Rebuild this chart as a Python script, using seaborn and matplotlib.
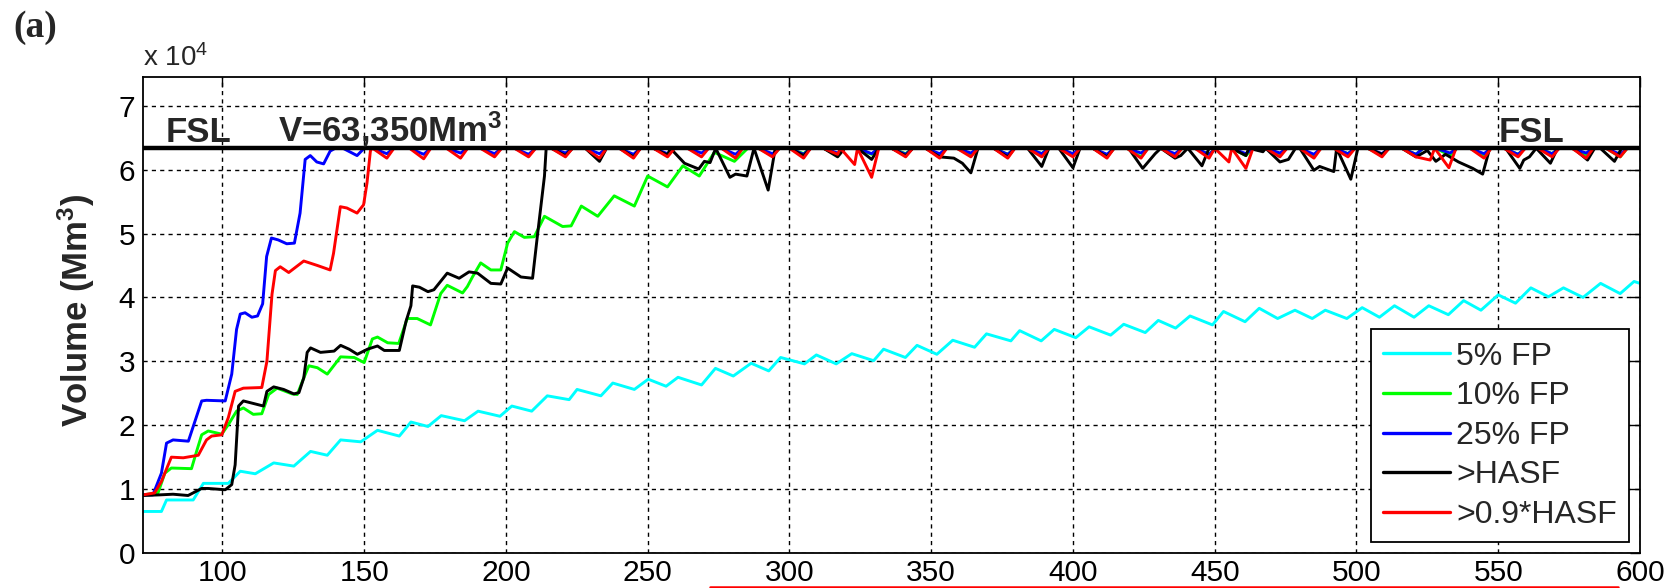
import numpy as np
import pandas as pd
import matplotlib
matplotlib.use("Agg")
import matplotlib.pyplot as plt
from matplotlib.lines import Line2D
from matplotlib.ticker import FixedLocator, FuncFormatter
import seaborn as sns

# ---------------------------------------------------------------------------
# Reservoir storage (values in units of 10^4 Mm^3)
# ---------------------------------------------------------------------------
SCALE = 1e4
FSL = 63350  # full supply level volume, Mm^3

labels = ["5% FP", "10% FP", "25% FP", ">HASF", ">0.9*HASF"]
colors = ["#00FFFF", "#00FF00", "#0000FF", "#000000", "#FF0000"]

cyan_x = [72, 78.5, 80.3, 89.7, 93.3, 102.1, 106.3, 111.6, 118.1, 125.2, 131.1, 137,
          141.7, 148.8, 154.7, 162.4, 166.5, 172.5, 177.2, 185.4, 190.2, 197.9, 202.1,
          209.1, 214.6, 222.3, 225.1, 233.5, 237.7, 245.3, 250.2, 256.5, 260.7, 269,
          273.9, 280.2, 286.5, 292.7, 296.9, 305.3, 309.5, 316.5, 322, 329.7, 333.2,
          340.9, 345, 352, 357.6, 365.3, 369.5, 378.1, 381.2, 388.8, 393.4, 401, 405.7,
          413.3, 417.9, 425.5, 430.1, 436.2, 441.3, 449.2, 453.1, 460.7, 465.7, 472.2,
          478.3, 484.4, 489, 496.6, 502, 508.1, 513.4, 520.3, 525.5, 532.4, 537.8,
          543.9, 550, 556.1, 561.5, 567.7, 573, 579.9, 586.1, 593, 597.9, 600]
cyan_y = [0.65, 0.65, 0.83, 0.83, 1.09, 1.09, 1.28, 1.24, 1.41, 1.36, 1.59, 1.53,
          1.77, 1.74, 1.92, 1.83, 2.05, 1.98, 2.15, 2.07, 2.22, 2.14, 2.30,
          2.22, 2.46, 2.40, 2.56, 2.46, 2.66, 2.56, 2.72, 2.61, 2.75, 2.63,
          2.89, 2.77, 2.97, 2.85, 3.06, 2.96, 3.10, 2.96, 3.12, 3.01, 3.19,
          3.06, 3.25, 3.11, 3.33, 3.22, 3.43, 3.32, 3.48, 3.32, 3.50, 3.37, 3.54,
          3.41, 3.58, 3.45, 3.64, 3.52, 3.71, 3.57, 3.78, 3.62, 3.83, 3.67,
          3.80, 3.67, 3.80, 3.67, 3.84, 3.69, 3.87, 3.69, 3.87, 3.73, 3.95,
          3.80, 4.04, 3.91, 4.15, 4.01, 4.15, 4.00, 4.22, 4.06, 4.25, 4.22]

green_x = [72, 77.3, 79.7, 82, 89.1, 90.9, 92.7, 95, 99.8, 102.1, 105, 107.4, 110.9,
           113.9, 116.3, 119.3, 124.6, 126.4, 128.7, 130.5, 133.5, 137, 141.7, 146.5,
           150, 152.9, 154.7, 158.3, 162.2, 165.2, 168.7, 173.4, 177, 179.3, 184.7,
           186.4, 188.2, 191.1, 194.7, 198.2, 200.6, 203, 206.5, 210, 213.6, 220, 223,
           226.6, 232.4, 238.2, 245.3, 250, 257, 262.4, 268.2, 273.5, 280.6, 285.3]
green_y = [0.91, 0.94, 1.25, 1.33, 1.32, 1.59, 1.85, 1.91, 1.86, 2.01, 2.22, 2.27, 2.17,
           2.18, 2.48, 2.58, 2.49, 2.48, 2.74, 2.93, 2.90, 2.80, 3.07, 3.06,
           2.98, 3.35, 3.38, 3.29, 3.28, 3.67, 3.67, 3.57, 4.06, 4.19, 4.07,
           4.17, 4.32, 4.54, 4.43, 4.43, 4.85, 5.03, 4.94, 4.95, 5.27, 5.11, 5.12,
           5.43, 5.27, 5.59, 5.43, 5.90, 5.73, 6.06, 5.90, 6.27, 6.13, 6.335]
green_dip_x = [294, 305, 317, 329, 341, 353, 364, 377, 389, 400, 412, 424, 436, 448,
               461, 473, 485, 497, 509, 521, 533, 545, 557, 569, 581, 593]
green_dip_y = [6.22, 6.25, 6.23, 6.24, 6.25, 6.22, 6.23, 6.24, 6.25, 6.24, 6.22, 6.20,
               6.22, 6.24, 6.22, 6.24, 6.22, 6.25, 6.22, 6.24, 6.22, 6.22, 6.24, 6.25,
               6.22, 6.20]

blue_x = [72, 75.5, 78.5, 80.3, 82.6, 88, 92.7, 94.4, 101, 103.3, 105, 106.3, 108,
          110.4, 112.4, 114.2, 115.6, 117.3, 119.7, 122.7, 125.4, 127.4, 129.2, 131,
          133.3, 135.7, 138, 139.8]
blue_y = [0.91, 0.91, 1.25, 1.72, 1.77, 1.75, 2.38, 2.39, 2.38, 2.80, 3.5, 3.74, 3.76,
          3.69, 3.71, 3.9, 4.64, 4.93, 4.90, 4.84, 4.85, 5.32, 6.16, 6.22,
          6.12, 6.09, 6.29, 6.335]
blue_dip_x = [147.5, 158, 171, 184, 196, 208, 221, 233, 245, 257, 269, 281, 294, 305,
              317, 329, 341, 353, 364, 377, 389, 400, 412, 424, 436, 448, 461, 473,
              485, 497, 509, 521, 533, 545, 557, 569, 581, 593]
blue_dip_y = [6.22, 6.25, 6.24, 6.26, 6.25, 6.24, 6.26, 6.25, 6.24, 6.25,
              6.26, 6.24, 6.25, 6.24, 6.26, 6.25, 6.24, 6.25, 6.26, 6.24,
              6.25, 6.25, 6.24, 6.26, 6.25, 6.24, 6.25, 6.26, 6.24, 6.25,
              6.25, 6.24, 6.26, 6.25, 6.24, 6.25, 6.26, 6.24]

black_x = [72, 77.9, 82.6, 87.9, 92.7, 95, 101, 103.3, 104.5, 105.7, 107.4, 110.9,
           114.5, 115.7, 118.1, 121.6, 125.2, 127, 128.7, 129.9, 131.1, 134.6, 139.4,
           141.7, 144.7, 147.6, 151.2, 154.7, 157.1, 162.4, 164.8, 166.5, 167.1, 169.5,
           172.5, 174.6, 179.3, 183.5, 187, 190, 194.7, 198.2, 200.6, 205.3, 209.4,
           211.2, 213.6, 214.2]
black_y = [0.90, 0.91, 0.92, 0.90, 1.01, 1.01, 0.99, 1.07, 1.38, 2.30, 2.38, 2.34,
           2.30, 2.53, 2.60, 2.56, 2.49, 2.51, 2.74, 3.14, 3.21, 3.14, 3.16,
           3.25, 3.19, 3.11, 3.19, 3.24, 3.17, 3.17, 3.63, 3.87, 4.18, 4.16,
           4.09, 4.12, 4.38, 4.30, 4.40, 4.38, 4.22, 4.21, 4.46, 4.32, 4.30,
           5.00, 5.90, 6.335]
black_dip_x = [221, 233, 245, 257, 263, 268, 270, 272, 279, 281, 285, 292.5, 305, 317,
               329, 341, 353, 358, 361, 364, 377, 389, 400, 412, 424.6, 429, 436, 438,
               445.5, 461, 467, 473, 476, 485, 487, 492, 498, 509, 521, 525, 528, 531.4,
               536, 541, 544.5, 557.6, 559, 561, 568.4, 581.5, 591]
black_dip_y = [6.22, 6.13, 6.20, 6.23, 6.10, 6.01, 6.13, 6.11, 5.88, 5.93, 5.90, 5.68,
               6.22, 6.20, 6.16, 6.22, 6.20, 6.18, 6.10, 5.95, 6.20, 6.05, 6.03, 6.20,
               6.02, 6.25, 6.18, 6.22, 6.06, 6.22, 6.28, 6.12, 6.16, 5.99, 6.05, 5.97,
               5.85, 6.24, 6.20, 6.30, 6.13, 6.24, 6.12, 6.02, 5.93, 6.02, 6.15, 6.20,
               6.10, 6.15, 6.13]

red_x = [72, 76.1, 78.5, 82, 86.2, 91.5, 94.4, 96.2, 99.8, 102.1, 104.5, 107.4, 113.9,
         115.7, 117.5, 118.7, 120.4, 123.4, 128.7, 133.5, 138, 139.2, 141.6, 143.9,
         147.5, 149.8, 151, 152.2, 152.8]
red_y = [0.91, 0.94, 1.12, 1.50, 1.49, 1.53, 1.77, 1.83, 1.85, 2.12, 2.53, 2.58, 2.59,
         3.0, 4.05, 4.42, 4.48, 4.39, 4.57, 4.50, 4.43, 4.69, 5.42, 5.40,
         5.32, 5.45, 5.79, 6.29, 6.335]
red_dip_x = [158, 171, 184, 196, 208, 221, 233, 245, 257, 269, 281, 294, 305, 317, 323,
             329, 341, 353, 364, 377, 389, 400, 412, 424, 436, 448, 455, 461, 473, 485,
             497, 509, 521, 526, 532.6, 545, 557, 569, 581, 593]
red_dip_y = [6.18, 6.17, 6.18, 6.20, 6.20, 6.20, 6.18, 6.18, 6.20, 6.20, 6.18, 6.20,
             6.18, 6.24, 6.08, 5.88, 6.20, 6.18, 6.20, 6.18, 6.20, 6.20, 6.18, 6.18,
             6.20, 6.18, 6.12, 6.02, 6.20, 6.18, 6.20, 6.20, 6.20, 6.15, 6.03, 6.18,
             6.20, 6.20, 6.18, 6.20]

X_END = 600
xticks = [100, 150, 200, 250, 300, 350, 400, 450, 500, 550, 600]
yticks = [0, 1, 2, 3, 4, 5, 6, 7]


def spill_phase(x_full, dip_x, dip_y, x_end, fall=5.0, rise=2.5):
    """Once the reservoir is full it sits at FSL, drawing down between refills."""
    top = FSL / SCALE
    xs, ys = [], []
    last = x_full
    for i, (dx, dy) in enumerate(zip(dip_x, dip_y)):
        if dx - fall > last:
            xs.append(dx - fall)
            ys.append(top)
        xs.append(dx)
        ys.append(dy)
        last = dx
        nxt = dip_x[i + 1] - fall if i + 1 < len(dip_x) else np.inf
        if nxt > dx + rise:
            xs.append(dx + rise)
            ys.append(top)
            last = dx + rise
    if last < x_end:
        xs.append(x_end)
        ys.append(top)
    return xs, ys


def full_series(rx, ry, dx=None, dy=None):
    if dx is None:
        return list(rx), list(ry)
    sx, sy = spill_phase(rx[-1], dx, dy, X_END)
    return list(rx) + sx, list(ry) + sy


series = {
    labels[0]: full_series(cyan_x, cyan_y),
    labels[1]: full_series(green_x, green_y, green_dip_x, green_dip_y),
    labels[2]: full_series(blue_x, blue_y, blue_dip_x, blue_dip_y),
    labels[3]: full_series(black_x, black_y, black_dip_x, black_dip_y),
    labels[4]: full_series(red_x, red_y, red_dip_x, red_dip_y),
}

frames = []
for name, (xs, ys) in series.items():
    frames.append(pd.DataFrame({"series": name, "time": xs,
                                "volume": np.asarray(ys) * SCALE}))
df = pd.concat(frames, ignore_index=True)

# ---------------------------------------------------------------------------
# Styling
# ---------------------------------------------------------------------------
sns.set_style("white")
plt.rcParams["font.family"] = ["Liberation Sans", "DejaVu Sans"]
plt.rcParams["mathtext.fontset"] = "custom"
plt.rcParams["mathtext.rm"] = "Liberation Sans"
plt.rcParams["mathtext.it"] = "Liberation Sans:italic"
plt.rcParams["mathtext.bf"] = "Liberation Sans:bold"

W, H = 1678, 588
fig = plt.figure(figsize=(W / 100, H / 100), dpi=100)
ax = fig.add_axes([143 / W, 1 - 553 / H, (1640 - 143) / W, (553 - 77) / H])

sns.lineplot(data=df, x="time", y="volume", hue="series", hue_order=labels,
             palette=dict(zip(labels, colors)), estimator=None, sort=False,
             linewidth=2.1, legend=False, ax=ax)

# full supply level
ax.axhline(FSL, color="black", linewidth=3.2, zorder=5)

ax.set_xlim(72, X_END)
ax.set_ylim(0, 7.45 * SCALE)
ax.xaxis.set_major_locator(FixedLocator(xticks))
ax.yaxis.set_major_locator(FixedLocator([v * SCALE for v in yticks]))
ax.yaxis.set_major_formatter(FuncFormatter(lambda v, _: f"{v / SCALE:g}"))
ax.set_xlabel("")
ax.set_ylabel("Volume (Mm$\\mathbf{^3}$)", fontsize=25, fontweight="bold")
ax.yaxis.set_label_coords(-0.031, 0.51)

ax.grid(True, color="black", linestyle=(0, (3, 3)), linewidth=1.0)
ax.set_axisbelow(True)
for sp in ax.spines.values():
    sp.set_color("black")
    sp.set_linewidth(1.3)
ax.tick_params(axis="both", which="major", direction="in", length=7, width=1.0,
               top=True, right=True, labelsize=21.5, colors="black")
ax.tick_params(axis="x", pad=4.5)
ax.tick_params(axis="y", pad=5.5)

# annotations at the full supply level
ax.text(80, 6.44 * SCALE, "FSL", fontsize=25, fontweight="bold",
        ha="left", va="baseline", zorder=6)
ax.text(119.5, 6.44 * SCALE, "V=63,350Mm$\\mathbf{^3}$", fontsize=25,
        fontweight="bold", ha="left", va="baseline", zorder=6)
ax.text(550, 6.44 * SCALE, "FSL", fontsize=25, fontweight="bold",
        ha="left", va="baseline", zorder=6)

handles = [Line2D([], [], color=c, linewidth=2.4) for c in colors]
leg = ax.legend(handles, labels, loc="lower right", bbox_to_anchor=(0.9927, 0.0231),
                borderaxespad=0, fontsize=23, handlelength=2.1, handletextpad=0.2,
                labelspacing=0.3, borderpad=0.38, frameon=True, fancybox=False,
                edgecolor="black", framealpha=1)
leg.get_frame().set_linewidth(1.3)
leg.set_zorder(10)

# exponent label and panel tag
fig.text(143 / W, 1 - 66 / H, "x 10$^4$", fontsize=20, ha="left", va="baseline")
fig.text(13 / W, 1 - 37 / H, "(a)", fontsize=27, fontweight="bold",
         family=["Liberation Serif", "DejaVu Serif"], ha="left", va="baseline")

# red rule along the lower edge
fig.add_artist(Line2D([710 / W, 1618 / W], [1 - 586.5 / H] * 2,
                      color="#FF0000", linewidth=1.8))

fig.savefig("out.png", dpi=100)
